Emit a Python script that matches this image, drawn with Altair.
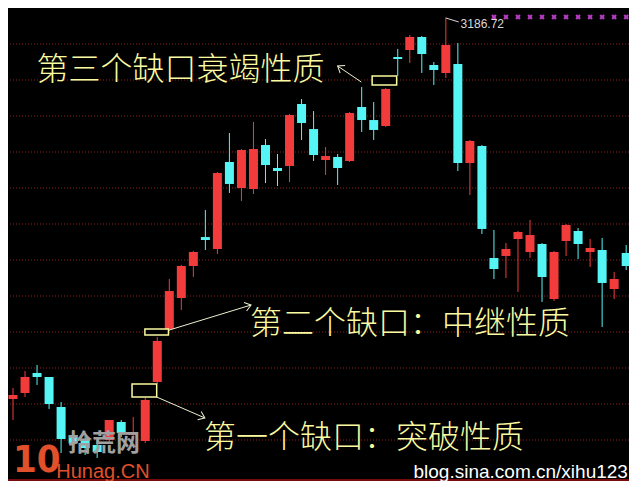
import math
import altair as alt
import pandas as pd

# ---------------- candle data (index, OHLC) ----------------
idx = list(range(52))
opens = [2656.9, 2665.3, 2693.1, 2687.5, 2645.8, 2606.9, 2600.0, 2593.1, 2600.0, 2625.0,
         2606.9, 2598.6, 2680.6, 2754.2, 2797.2, 2841.7, 2881.9, 2865.3, 2986.1, 2950.0,
         2948.6, 3009.7, 2977.8, 2980.6, 3066.7, 3031.9, 2988.9, 2993.1, 2987.5, 3062.5,
         3044.4, 3036.1, 3131.9, 3141.7, 3159.7, 3120.8, 3109.7, 3122.2, 2984.7, 3008.3,
         2852.8, 2855.6, 2879.2, 2861.1, 2872.2, 2795.8, 2876.4, 2890.3, 2861.1, 2863.9,
         2809.7, 2859.7]
highs = [2672.2, 2695.8, 2704.2, 2687.5, 2652.8, 2613.9, 2605.6, 2600.0, 2627.8, 2627.8,
         2632.0, 2658.3, 2743.1, 2823.6, 2843.1, 2862.5, 2919.4, 2972.2, 3026.4, 3004.2,
         3041.7, 3018.1, 2997.2, 3052.8, 3073.6, 3056.9, 3006.9, 2997.2, 3055.6, 3090.3,
         3069.4, 3088.9, 3143.1, 3162.5, 3161.1, 3125.0, 3186.72, 3151.4, 3016.7, 3009.7,
         2891.7, 2873.6, 2890.3, 2905.6, 2873.6, 2862.5, 2900.0, 2894.4, 2879.2, 2880.6,
         2833.3, 2870.8]
lows = [2627.8, 2659.7, 2676.4, 2643.1, 2581.9, 2586.1, 2579.2, 2575.0, 2597.2, 2604.2,
        2600.0, 2595.8, 2677.8, 2751.4, 2780.6, 2826.4, 2863.9, 2858.3, 2943.1, 2931.9,
        2941.7, 2956.9, 2952.8, 2958.3, 3016.7, 2987.5, 2968.1, 2954.2, 2986.1, 3027.8,
        3016.7, 3034.7, 3105.6, 3123.6, 3109.7, 3093.1, 3102.8, 2973.6, 2940.3, 2886.1,
        2823.6, 2825.0, 2805.6, 2852.8, 2791.7, 2793.1, 2855.6, 2851.4, 2840.3, 2757.0,
        2795.8, 2836.1]
closes = [2662.5, 2687.5, 2687.5, 2650.0, 2601.4, 2595.8, 2588.9, 2583.3, 2627.8, 2609.7,
          2611.1, 2655.6, 2737.5, 2806.9, 2841.7, 2861.1, 2877.8, 2970.8, 2955.6, 3002.8,
          3004.2, 2981.9, 2973.6, 3051.4, 3040.3, 2995.8, 2994.4, 2977.8, 3054.2, 3044.4,
          3030.6, 3087.5, 3129.2, 3159.7, 3136.1, 3113.9, 3148.6, 2984.7, 3015.3, 2893.1,
          2837.5, 2865.3, 2888.9, 2884.7, 2826.4, 2861.1, 2898.6, 2872.2, 2866.7, 2818.1,
          2823.6, 2841.7]

grid_levels = [2600, 2650, 2700, 2750, 2800, 2850, 2900, 2950, 3000, 3050, 3100, 3150]
bottom_line = [2544.6]
marker_idx = list(range(40, 52))
marker_price = 3187.5

# gap boxes
box_x1 = [9.90, 10.97, 29.87]
box_x2 = [11.95, 12.93, 31.91]
box_y1 = [2659.7, 2745.8, 3093.1]
box_y2 = [2677.8, 2754.2, 3105.6]

# arrows (start -> end, end carries the head)
arr_x1 = [11.95, 13.01, 28.97]
arr_y1 = [2659.7, 2752.8, 3097.2]
arr_x2 = [15.96, 19.80, 27.00]
arr_y2 = [2630.6, 2787.5, 3119.4]

# annotation texts
labels = ["第三个缺口衰竭性质", "第二个缺口：中继性质", "第一个缺口：突破性质"]
label_x = [1.96, 19.72, 15.88]
label_y = [3116.7, 2763.9, 2605.6]

high_label = "3186.72"

# ---------------- scales ----------------
W, H = 621, 473
PX_X = 12.22          # pixels per candle
PX_Y = 0.72           # pixels per index point
X_MAX = W / PX_X
Y_MAX = 3200.0
Y_MIN = Y_MAX - H / PX_Y

xs = alt.Scale(domain=[0, X_MAX], nice=False, zero=False)
ys = alt.Scale(domain=[Y_MIN, Y_MAX], nice=False, zero=False)

RED = "#f23c3c"
CYAN = "#55f5f5"
YEL = "#fafaa0"

df = pd.DataFrame({"i": idx, "open": opens, "high": highs, "low": lows, "close": closes})
df["dir"] = ["up" if c >= o else "down" for o, c in zip(opens, closes)]
df["top"] = [max(o, c) for o, c in zip(opens, closes)]
df["bot"] = [min(o, c) for o, c in zip(opens, closes)]

col = alt.Color("dir:N", scale=alt.Scale(domain=["up", "down"], range=[RED, CYAN]), legend=None)
X = lambda f: alt.X(f, scale=xs, axis=None)
Y = lambda f: alt.Y(f, scale=ys, axis=None)

grid = alt.Chart(pd.DataFrame({"g": grid_levels})).mark_rule(
    color="#8e1e1e", strokeDash=[1, 2], strokeWidth=1
).encode(y=Y("g:Q"))

bottom = alt.Chart(pd.DataFrame({"g": bottom_line})).mark_rule(
    color="#a01010", strokeWidth=1.5
).encode(y=Y("g:Q"))

wicks = alt.Chart(df).mark_rule(strokeWidth=1, clip=True).encode(
    x=X("i:Q"), y=Y("low:Q"), y2="high:Q", color=col
)
bodies = alt.Chart(df).mark_bar(size=9, clip=True).encode(
    x=X("i:Q"), y=Y("bot:Q"), y2="top:Q", color=col
)

markers = alt.Chart(pd.DataFrame({"i": marker_idx, "p": [marker_price] * len(marker_idx)})).mark_point(
    shape="cross", angle=45, filled=True, size=30, color="#b43cc0", opacity=1, clip=True
).encode(x=X("i:Q"), y=Y("p:Q"))

boxes = alt.Chart(pd.DataFrame({"x1": box_x1, "x2": box_x2, "y1": box_y1, "y2": box_y2})).mark_rect(
    fill="black", stroke=YEL, strokeWidth=1.5
).encode(x=X("x1:Q"), x2="x2:Q", y=Y("y1:Q"), y2="y2:Q")

ang = []
for a, b, c, d in zip(arr_x1, arr_y1, arr_x2, arr_y2):
    dx = (c - a) * PX_X
    dy = -(d - b) * PX_Y
    ang.append(math.degrees(math.atan2(dy, dx)) % 360)
arr_df = pd.DataFrame({"x1": arr_x1, "y1": arr_y1, "x2": arr_x2, "y2": arr_y2, "ang": ang})

arrow_lines = alt.Chart(arr_df).mark_rule(color="#f0f0d0", strokeWidth=1).encode(
    x=X("x1:Q"), x2="x2:Q", y=Y("y1:Q"), y2="y2:Q"
)
arrow_heads = alt.Chart(arr_df).mark_point(
    shape="M -1 -0.75 L 0 0 L -1 0.75", filled=False, size=144, color="#f0f0d0", strokeWidth=1, opacity=1
).encode(x=X("x2:Q"), y=Y("y2:Q"), angle=alt.Angle("ang:Q", scale=None))

texts = alt.Chart(pd.DataFrame({"t": labels, "x": label_x, "y": label_y})).mark_text(
    align="left", baseline="middle", font="Noto Sans CJK SC", fontSize=32, fontWeight=300,
    color=YEL, dy=2
).encode(x=X("x:Q"), y=Y("y:Q"), text="t:N")

# high price label and pointer
hi_ptr = alt.Chart(pd.DataFrame({"x1": [36.0], "y1": [3186.1], "x2": [37.07], "y2": [3180.6]})).mark_rule(
    color="#d8d8d8", strokeWidth=1
).encode(x=X("x1:Q"), x2="x2:Q", y=Y("y1:Q"), y2="y2:Q")
hi_txt = alt.Chart(pd.DataFrame({"t": [high_label], "x": [37.23], "y": [3177.1]})).mark_text(
    align="left", baseline="middle", font="Liberation Sans", fontSize=12, color="#d8d8d8"
).encode(x=X("x:Q"), y=Y("y:Q"), text="t:N")

# watermarks
wm = pd.DataFrame({
    "t": ["blog.sina.com.cn/xihu123", "Hunag.CN"],
    "x": [33.31, 3.60],
    "y": [2547.2, 2547.2],
    "c": ["#ffffff", "#e0502a"],
    "s": [19, 20],
})
wm_txt = alt.Chart(wm).mark_text(align="left", baseline="alphabetic", font="Liberation Sans").encode(
    x=X("x:Q"), y=Y("y:Q"), text="t:N", color=alt.Color("c:N", scale=None),
    size=alt.Size("s:Q", scale=None)
)
logo_num = alt.Chart(pd.DataFrame({"t": ["10"], "x": [0.0], "y": [2555.6]})).mark_text(
    align="left", baseline="alphabetic", font="Liberation Sans Narrow, DejaVu Sans Condensed, Liberation Sans",
    fontWeight="bold", fontSize=38, color="#e0502a"
).encode(x=X("x:Q"), y=Y("y:Q"), text="t:N")
logo_cn = alt.Chart(pd.DataFrame({"t": ["拾荒网"], "x": [4.58], "y": [2594.4]})).mark_text(
    align="left", baseline="middle", font="Noto Sans CJK SC", fontWeight="bold", fontSize=24,
    color="#a0a0a0"
).encode(x=X("x:Q"), y=Y("y:Q"), text="t:N")

chart = alt.layer(
    grid, bottom, wicks, bodies, markers, boxes, arrow_lines, arrow_heads, texts,
    hi_ptr, hi_txt, logo_num, logo_cn, wm_txt
).properties(
    width=W, height=H, background="black", padding=0,
    autosize=alt.AutoSizeParams(type="none")
).configure_view(stroke=None)

chart.save("out.html", embed_options={"renderer": "svg", "actions": False})
